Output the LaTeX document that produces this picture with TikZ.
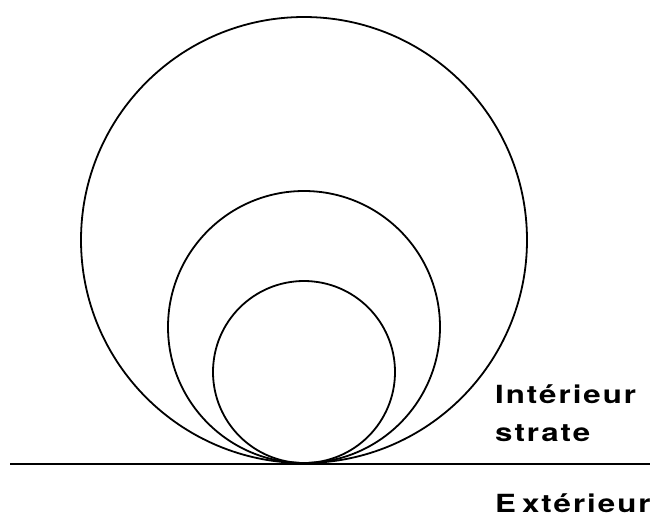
\documentclass[tikz,border=0pt]{standalone}
\usepackage{fontspec}
\setmainfont{TeX Gyre Heros}
\newfontfamily\labelfont[LetterSpace=8,FakeStretch=1.25,BoldFont={TeX Gyre Heros Bold}]{TeX Gyre Heros}
\tikzset{
  bulle/.style={line width=1.8pt},
  sol/.style={line width=2.8pt},
  etiquette/.style={anchor=base west, inner sep=0pt, font=\fontsize{25}{30}\labelfont\bfseries}
}
\begin{document}
\begin{tikzpicture}[x=1pt,y=-1pt]
\useasboundingbox (0,0) rectangle (650,517);

% === bulles ===
\coordinate (contact) at (304,463);
\foreach \r in {91,136,223} {
  \draw[bulle] (304,463-\r) circle[radius=\r pt];
}

% === limite de strate ===
\coordinate (gauche) at (10,464);
\coordinate (droite) at (650,464);
\draw[sol] (gauche) -- (droite);

% Labels
\node[etiquette] (interieur) at (495,403) {Intérieur};
\node[etiquette] (strate) at (495,441) {strate};
\node[etiquette] (exterieur) at (495,512) {E\kern6pt xtérieur};

\end{tikzpicture}
\end{document}
